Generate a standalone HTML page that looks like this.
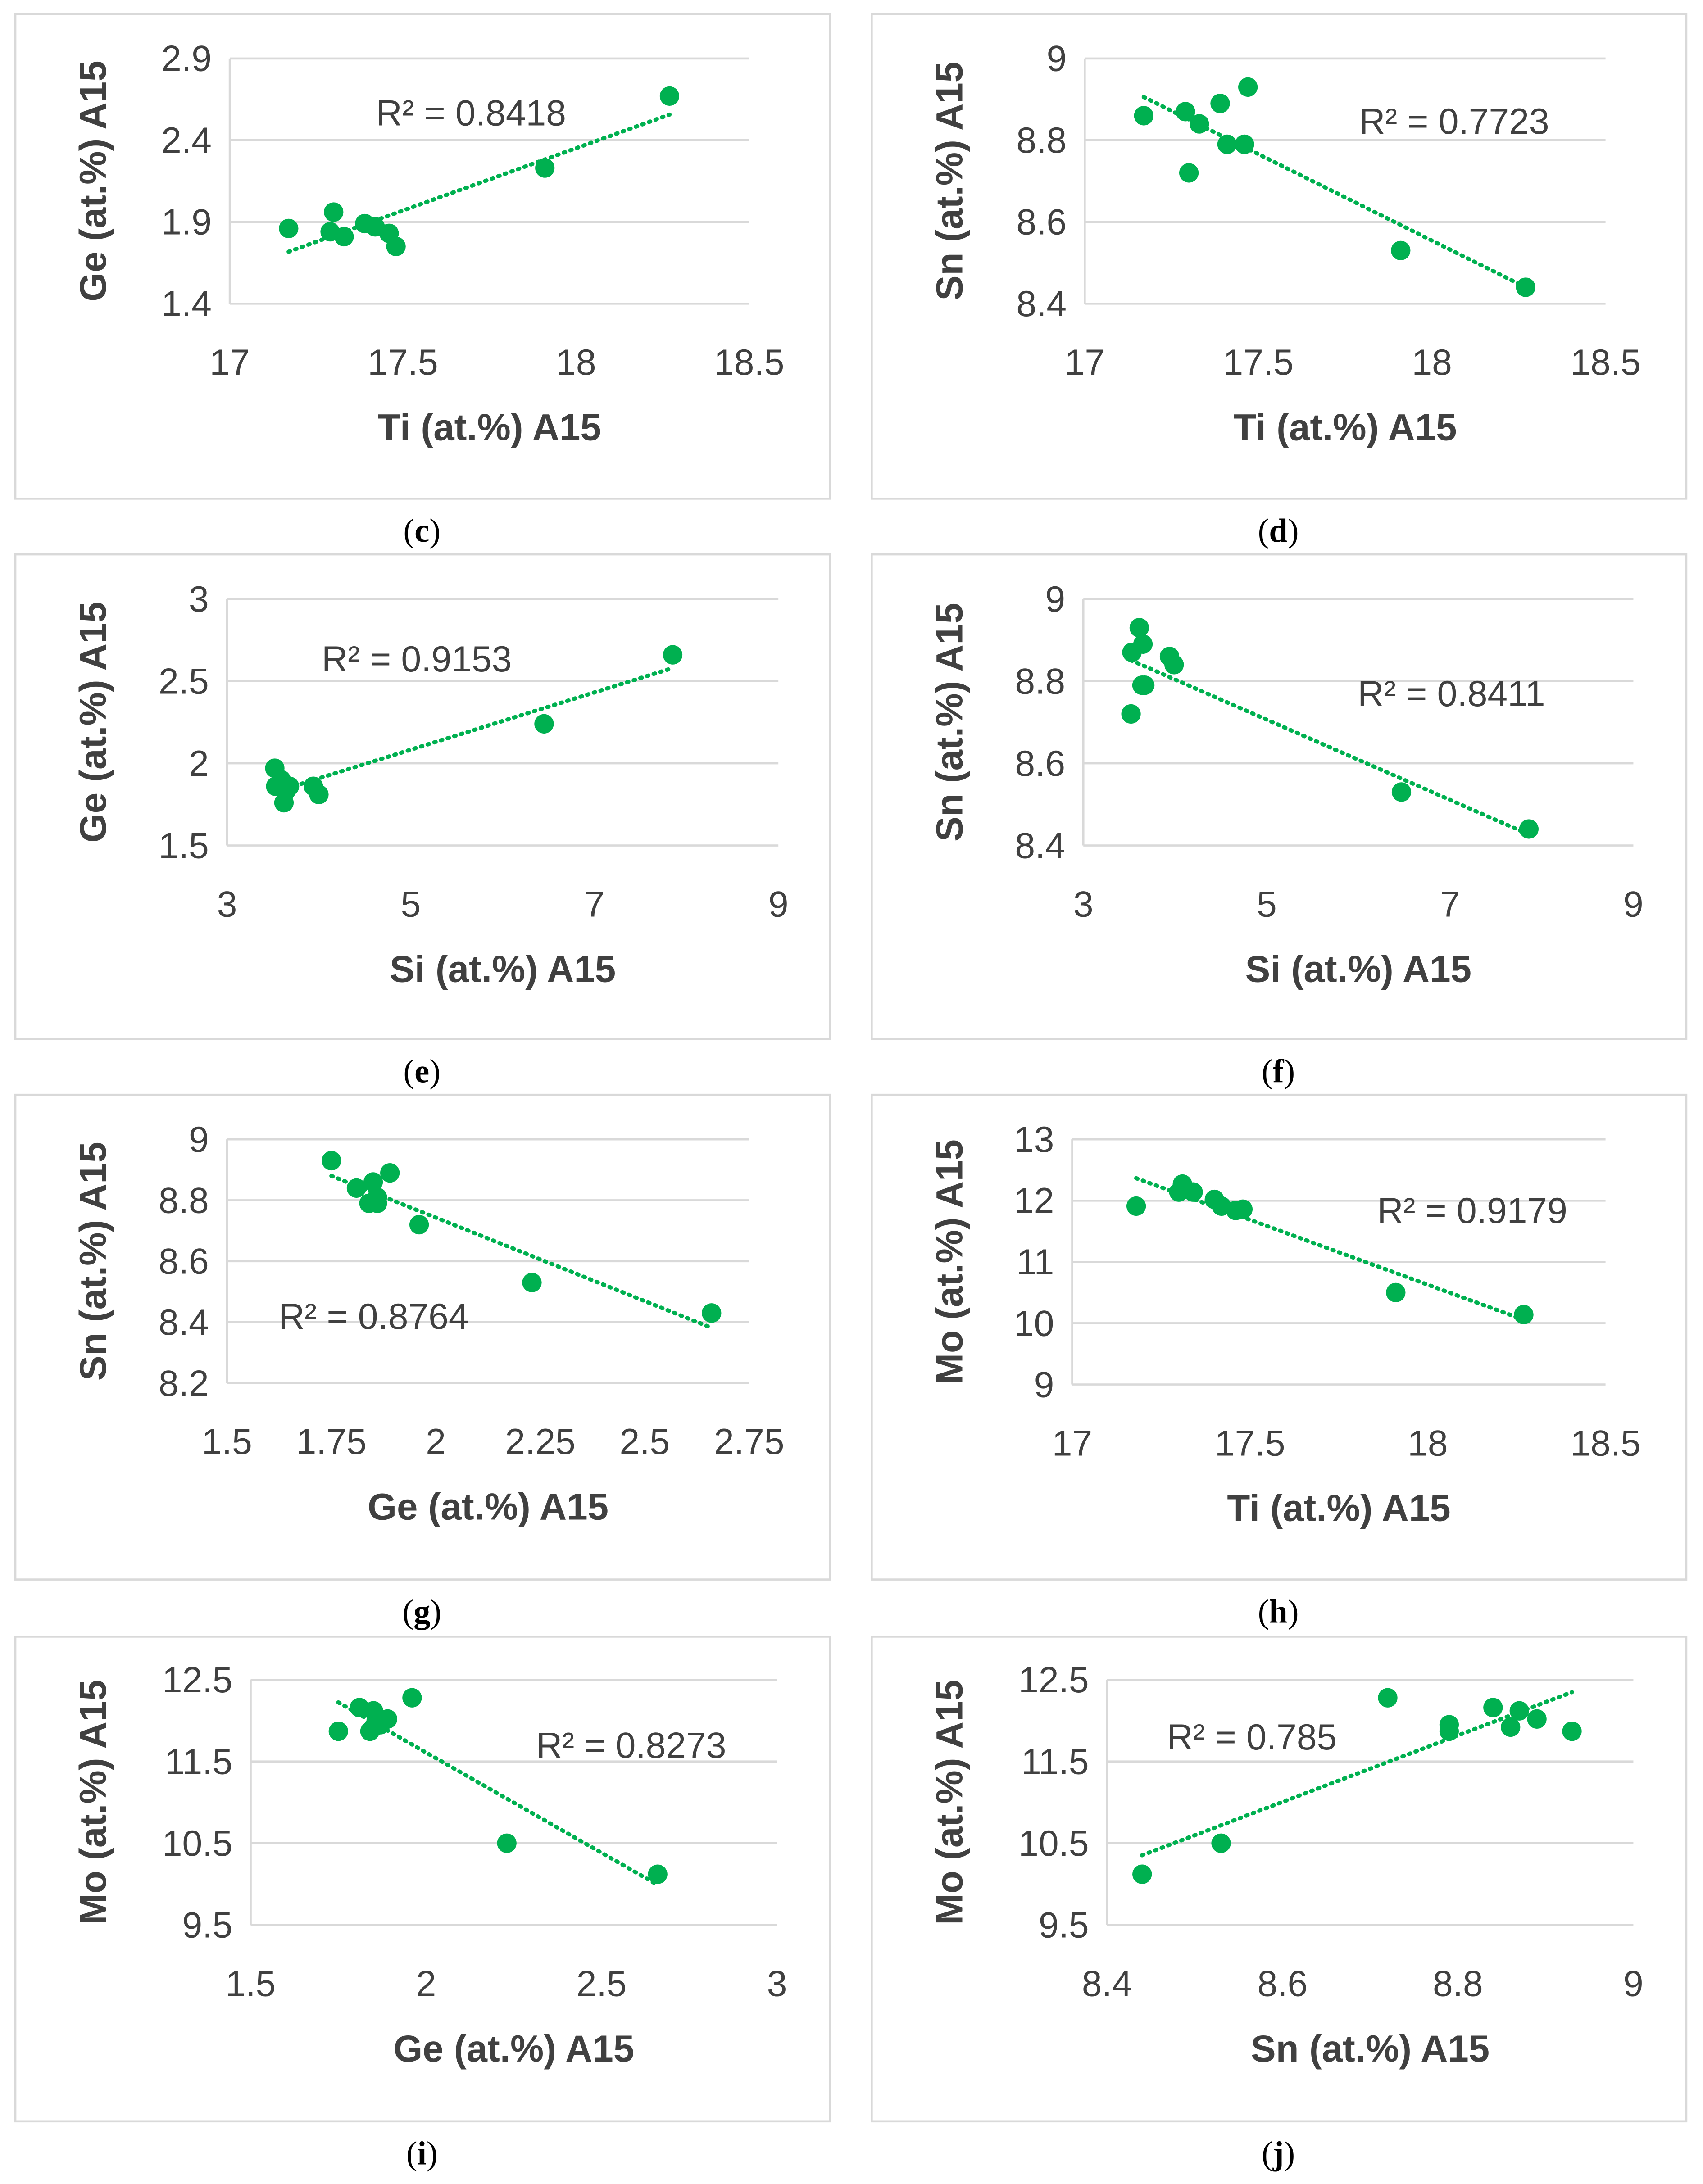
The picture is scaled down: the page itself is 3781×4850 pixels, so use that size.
<!DOCTYPE html>
<html><head><meta charset="utf-8"><style>
html,body{margin:0;padding:0;background:#fff}
svg{display:block}
text{font-family:"Liberation Sans",sans-serif}
text.cap{font-family:"Liberation Serif",serif}
</style></head><body>
<svg id="fig" xmlns="http://www.w3.org/2000/svg" width="3781" height="4850" viewBox="0 0 1223 1568" preserveAspectRatio="none"></svg>
<script>
// ---- data (each chart: x values, y values) ----
const cX=[17.17,17.29,17.30,17.33,17.39,17.42,17.46,17.48,17.91,18.27];
const cY=[1.86,1.84,1.96,1.81,1.89,1.87,1.83,1.75,2.23,2.67];
const dX=[17.17,17.29,17.30,17.33,17.39,17.41,17.46,17.47,17.91,18.27];
const dY=[8.86,8.87,8.72,8.84,8.89,8.79,8.79,8.93,8.53,8.44];
const eX=[3.52,3.53,3.59,3.62,3.68,3.94,4.00,3.64,6.45,7.85];
const eY=[1.97,1.86,1.90,1.76,1.86,1.86,1.81,1.83,2.24,2.66];
const fX=[3.52,3.53,3.61,3.65,3.67,3.94,3.99,3.64,6.47,7.86];
const fY=[8.72,8.87,8.93,8.89,8.79,8.86,8.84,8.79,8.53,8.44];
const gX=[1.75,1.81,1.84,1.85,1.86,1.89,1.96,1.86,2.23,2.66];
const gY=[8.93,8.84,8.79,8.86,8.79,8.89,8.72,8.81,8.53,8.43];
const hX=[17.18,17.30,17.31,17.34,17.40,17.42,17.46,17.48,17.91,18.27];
const hY=[11.91,12.14,12.27,12.14,12.02,11.91,11.84,11.86,10.50,10.14];
const iX=[1.75,1.81,1.84,1.85,1.87,1.89,1.96,1.85,2.23,2.66];
const iY=[11.87,12.16,11.87,12.12,11.95,12.02,12.28,11.92,10.50,10.12];
const jX=[8.44,8.53,8.72,8.79,8.79,8.84,8.86,8.87,8.89,8.93];
const jY=[10.12,10.50,12.28,11.87,11.95,12.16,11.92,12.12,12.02,11.87];
// tick labels
const tiTicks=["17","17.5","18","18.5"];
const siTicks=["3","5","7","9"];
const geTicksG=["1.5","1.75","2","2.25","2.5","2.75"];
const geTicksI=["1.5","2","2.5","3"];
const snTicksJ=["8.4","8.6","8.8","9"];
const geYc=["1.4","1.9","2.4","2.9"];
const snYd=["8.4","8.6","8.8","9"];
const geYe=["1.5","2","2.5","3"];
const snYg=["8.2","8.4","8.6","8.8","9"];
const moYh=["9","10","11","12","13"];
const moYi=["9.5","10.5","11.5","12.5"];
const r2Labels=["R² = 0.8418","R² = 0.7723","R² = 0.9153","R² = 0.8411","R² = 0.8764","R² = 0.9179","R² = 0.8273","R² = 0.785"];

const NS="http://www.w3.org/2000/svg";
const svg=document.getElementById('fig');
function mk(tag,attrs,parent){const e=document.createElementNS(NS,tag);for(const k in attrs)e.setAttribute(k,attrs[k]);(parent||svg).appendChild(e);return e;}

const panels=[
 {id:'c',bx:11,by:10,x0:165,x1:538,y0:218,y1:42,xt:tiTicks,yt:geYc,xs:cX,ys:cY,xl:'Ti (at.%) A15',yl:'Ge (at.%) A15',r2:r2Labels[0],rx:270,ry:90},
 {id:'d',bx:626,by:10,x0:779,x1:1153,y0:218,y1:42,xt:tiTicks,yt:snYd,xs:dX,ys:dY,xl:'Ti (at.%) A15',yl:'Sn (at.%) A15',r2:r2Labels[1],rx:976,ry:96},
 {id:'e',bx:11,by:398,x0:163,x1:559,y0:607,y1:430,xt:siTicks,yt:geYe,xs:eX,ys:eY,xl:'Si (at.%) A15',yl:'Ge (at.%) A15',r2:r2Labels[2],rx:231,ry:482},
 {id:'f',bx:626,by:398,x0:778,x1:1173,y0:607,y1:430,xt:siTicks,yt:snYd,xs:fX,ys:fY,xl:'Si (at.%) A15',yl:'Sn (at.%) A15',r2:r2Labels[3],rx:975,ry:507},
 {id:'g',bx:11,by:786,x0:163,x1:538,y0:993,y1:818,xt:geTicksG,yt:snYg,xs:gX,ys:gY,xl:'Ge (at.%) A15',yl:'Sn (at.%) A15',r2:r2Labels[4],rx:200,ry:954},
 {id:'h',bx:626,by:786,x0:770,x1:1153,y0:994,y1:818,xt:tiTicks,yt:moYh,xs:hX,ys:hY,xl:'Ti (at.%) A15',yl:'Mo (at.%) A15',r2:r2Labels[5],rx:989,ry:878},
 {id:'i',bx:11,by:1175,x0:180,x1:558,y0:1382,y1:1206,xt:geTicksI,yt:moYi,xs:iX,ys:iY,xl:'Ge (at.%) A15',yl:'Mo (at.%) A15',r2:r2Labels[6],rx:385,ry:1262},
 {id:'j',bx:626,by:1175,x0:795,x1:1173,y0:1382,y1:1206,xt:snTicksJ,yt:moYi,xs:jX,ys:jY,xl:'Sn (at.%) A15',yl:'Mo (at.%) A15',r2:r2Labels[7],rx:838,ry:1256},
];

panels.forEach(p=>{
 const g=mk('g',{});
 
 
 const box=mk('rect',{x:p.bx,y:p.by,width:585,height:348,fill:'#fff',stroke:'#d9d9d9','stroke-width':1.5},g);
 
 
 const xmin=+p.xt[0],xmax=+p.xt[p.xt.length-1],ymin=+p.yt[0],ymax=+p.yt[p.yt.length-1];
 const sx=v=>p.x0+(v-xmin)/(xmax-xmin)*(p.x1-p.x0);
 const sy=v=>p.y0-(v-ymin)/(ymax-ymin)*(p.y0-p.y1);
 p.yt.forEach(t=>{
  const y=sy(+t);
  const gl=mk('line',{x1:p.x0,x2:p.x1,y1:y,y2:y,stroke:'#d9d9d9','stroke-width':1.5},g);
  
  
  const tl=mk('text',{x:p.x0-13,y:y+9,'text-anchor':'end','font-size':26,fill:'#404040'},g);
  tl.textContent=t;
  
  
 });
 const ax=mk('line',{x1:p.x0,x2:p.x0,y1:p.y1,y2:p.y0,stroke:'#d9d9d9','stroke-width':1.5},g);
 
 
 p.xt.forEach(t=>{
  const tl=mk('text',{x:sx(+t),y:p.y0+51,'text-anchor':'middle','font-size':26,fill:'#404040'},g);
  tl.textContent=t;
  
  
 });
 const xt=mk('text',{x:(p.x0+p.x1)/2,y:p.y0+98,'text-anchor':'middle','font-size':27,'font-weight':'bold',fill:'#404040'},g);
 xt.textContent=p.xl;
 
 
 const yc=(p.y0+p.y1)/2, yx=p.bx+65;
 const yt=mk('text',{x:yx,y:yc,'text-anchor':'middle','font-size':27,'font-weight':'bold',fill:'#404040',transform:`rotate(-90 ${yx} ${yc})`},g);
 yt.textContent=p.yl;
 
 
 // regression
 const n=p.xs.length;let mx=0,my=0;p.xs.forEach((v,k)=>{mx+=v;my+=p.ys[k];});mx/=n;my/=n;
 let sxy=0,sxx=0;p.xs.forEach((v,k)=>{sxy+=(v-mx)*(p.ys[k]-my);sxx+=(v-mx)*(v-mx);});
 const b=sxy/sxx,a=my-b*mx;const lo=Math.min(...p.xs),hi=Math.max(...p.xs);
 const tr=mk('line',{x1:sx(lo),y1:sy(a+b*lo),x2:sx(hi),y2:sy(a+b*hi),stroke:'#00b050','stroke-width':3,'stroke-dasharray':'1 4','stroke-linecap':'round'},g);
 
 
 p.xs.forEach((v,k)=>{
  const c=mk('circle',{cx:sx(v),cy:sy(p.ys[k]),r:7,fill:'#00b050'},g);
  
  
 });
 const r=mk('text',{x:p.rx,y:p.ry,'font-size':26,fill:'#404040'},g);
 r.textContent=p.r2;
 
 
 const cap=mk('text',{x:p.bx+292,y:p.by+379,'text-anchor':'middle','font-size':24,fill:'#000','class':'cap',style:'font-family:"Liberation Serif",serif'},g);
 cap.innerHTML='(<tspan font-weight="bold">'+p.id+'</tspan>)';
 
 
});
</script>
</body></html>
